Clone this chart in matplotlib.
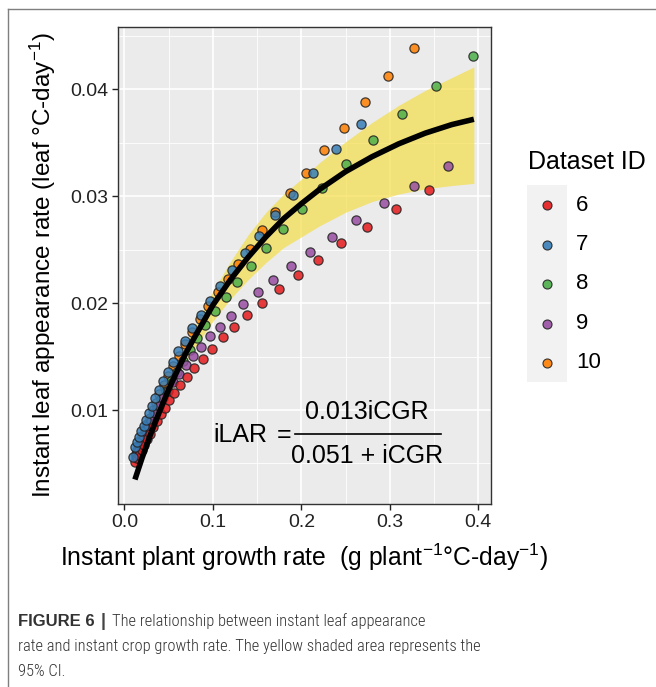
import matplotlib
matplotlib.use("Agg")
import matplotlib.pyplot as plt
from matplotlib import font_manager
from matplotlib.lines import Line2D
from matplotlib.patches import Rectangle

plt.rcParams['font.family'] = ['Liberation Sans', 'DejaVu Sans']
plt.rcParams['mathtext.fontset'] = 'custom'
plt.rcParams['mathtext.rm'] = 'Liberation Sans'
plt.rcParams['mathtext.it'] = 'Liberation Sans:italic'

# ---------------- data ----------------
dataset_ids = ["6", "7", "8", "9", "10"]
colors = ["#E41A1C", "#377EB8", "#4DAF4A", "#984EA3", "#FF7F00"]

x6 = [0.0121, 0.0144, 0.0169, 0.0197, 0.0223, 0.0253, 0.0287, 0.0324, 0.0366, 0.0411,
      0.0456, 0.0505, 0.0565, 0.0633, 0.0705, 0.0791, 0.0886, 0.0988, 0.1112, 0.1243,
      0.1386, 0.1556, 0.1748, 0.1959, 0.2192, 0.2452, 0.2742, 0.3070, 0.3447]
y6 = [0.0051, 0.0055, 0.0058, 0.0063, 0.0067, 0.0073, 0.0078, 0.0084, 0.0090, 0.0096,
      0.0102, 0.0109, 0.0116, 0.0123, 0.0131, 0.0139, 0.0148, 0.0157, 0.0168, 0.0178,
      0.0189, 0.0200, 0.0213, 0.0226, 0.0240, 0.0256, 0.0271, 0.0288, 0.0306]

x7 = [0.0102, 0.0121, 0.0144, 0.0169, 0.0192, 0.0219, 0.0245, 0.0275, 0.0309, 0.0347,
      0.0388, 0.0437, 0.0490, 0.0547, 0.0610, 0.0686, 0.0768, 0.0867, 0.0968, 0.1085,
      0.1217, 0.1360, 0.1525, 0.1703, 0.1906, 0.2132, 0.2388, 0.2671]
y7 = [0.0056, 0.0065, 0.0070, 0.0075, 0.0080, 0.0085, 0.0091, 0.0097, 0.0104, 0.0111,
      0.0119, 0.0127, 0.0136, 0.0145, 0.0155, 0.0165, 0.0177, 0.0189, 0.0202, 0.0216,
      0.0231, 0.0247, 0.0263, 0.0282, 0.0301, 0.0322, 0.0344, 0.0368]

x8 = [0.0134, 0.0154, 0.0176, 0.0200, 0.0228, 0.0258, 0.0292, 0.0330, 0.0372, 0.0420,
      0.0472, 0.0530, 0.0595, 0.0665, 0.0742, 0.0818, 0.0912, 0.1025, 0.1145, 0.1273,
      0.1432, 0.1597, 0.1793, 0.2004, 0.2238, 0.2505, 0.2807, 0.3138, 0.3518, 0.3937]
y8 = [0.0058, 0.0062, 0.0066, 0.0071, 0.0076, 0.0082, 0.0088, 0.0095, 0.0102, 0.0110,
      0.0118, 0.0127, 0.0136, 0.0146, 0.0156, 0.0167, 0.0180, 0.0193, 0.0206, 0.0220,
      0.0235, 0.0252, 0.0269, 0.0288, 0.0308, 0.0330, 0.0353, 0.0377, 0.0403, 0.0431]

x9 = [0.0130, 0.0148, 0.0168, 0.0190, 0.0215, 0.0242, 0.0273, 0.0307, 0.0345, 0.0388,
      0.0436, 0.0490, 0.0550, 0.0618, 0.0694, 0.0780, 0.0867, 0.0968, 0.1078, 0.1211,
      0.1345, 0.1507, 0.1684, 0.1880, 0.2102, 0.2347, 0.2622, 0.2931, 0.3270, 0.3658]
y9 = [0.0055, 0.0059, 0.0063, 0.0068, 0.0073, 0.0078, 0.0084, 0.0090, 0.0097, 0.0104,
      0.0111, 0.0118, 0.0126, 0.0134, 0.0142, 0.0151, 0.0159, 0.0169, 0.0178, 0.0188,
      0.0199, 0.0210, 0.0222, 0.0235, 0.0248, 0.0262, 0.0278, 0.0294, 0.0310, 0.0328]

x10 = [0.0128, 0.0145, 0.0163, 0.0183, 0.0205, 0.0229, 0.0256, 0.0286, 0.0319, 0.0356,
       0.0397, 0.0443, 0.0494, 0.0551, 0.0615, 0.0686, 0.0765, 0.0852, 0.0949, 0.1055,
       0.1172, 0.1288, 0.1417, 0.1552, 0.1703, 0.1872, 0.2053, 0.2257, 0.2479, 0.2720,
       0.2983, 0.3274]
y10 = [0.0059, 0.0063, 0.0067, 0.0071, 0.0076, 0.0081, 0.0087, 0.0093, 0.0100, 0.0107,
       0.0115, 0.0123, 0.0132, 0.0141, 0.0151, 0.0162, 0.0173, 0.0185, 0.0197, 0.0210,
       0.0223, 0.0237, 0.0251, 0.0268, 0.0285, 0.0303, 0.0322, 0.0343, 0.0364, 0.0388,
       0.0412, 0.0439]

# fitted curve and 95% CI band
fit_x = [0.012, 0.02, 0.03, 0.04, 0.05, 0.06, 0.07, 0.08, 0.10, 0.12, 0.14, 0.16,
         0.18, 0.20, 0.22, 0.25, 0.28, 0.31, 0.34, 0.37, 0.395]
fit_y = [0.0035, 0.0055, 0.0078, 0.0099, 0.0119, 0.0137, 0.0154, 0.0169, 0.0198,
         0.0222, 0.0243, 0.0262, 0.0279, 0.0293, 0.0306, 0.0323, 0.0337, 0.0349,
         0.0359, 0.0367, 0.0372]
ci_hi = [0.0036, 0.0057, 0.0080, 0.0102, 0.0124, 0.0143, 0.0162, 0.0179, 0.0211,
         0.0239, 0.0264, 0.0285, 0.0302, 0.0316, 0.0331, 0.0351, 0.0369, 0.0385,
         0.0399, 0.0411, 0.0421]
ci_lo = [0.0034, 0.0053, 0.0076, 0.0096, 0.0114, 0.0131, 0.0146, 0.0159, 0.0183,
         0.0204, 0.0222, 0.0238, 0.0252, 0.0262, 0.0272, 0.0285, 0.0295, 0.0302,
         0.0307, 0.0310, 0.0312]

x_ticks = [0.0, 0.1, 0.2, 0.3, 0.4]
x_tick_labels = ["0.0", "0.1", "0.2", "0.3", "0.4"]
y_ticks = [0.01, 0.02, 0.03, 0.04]
y_tick_labels = ["0.01", "0.02", "0.03", "0.04"]

# ---------------- figure ----------------
W, H = 656, 687
fig = plt.figure(figsize=(W / 100, H / 100), dpi=100)

def fx(px):
    return px / W

def fy(py):
    return 1 - py / H

L, R, T, B = 118.3, 490.7, 27.0, 504.0
ax = fig.add_axes([fx(L), fy(B), (R - L) / W, (B - T) / H])
ax.set_facecolor("#EBEBEB")
ax.set_xlim(-0.0068, 0.414)
ax.set_ylim(0.00121, 0.04583)

# grid
for v in [0.05, 0.15, 0.25, 0.35]:
    ax.axvline(v, color="white", lw=0.6, zorder=0.5)
for v in [0.005, 0.015, 0.025, 0.035, 0.045]:
    ax.axhline(v, color="white", lw=0.6, zorder=0.5)
for v in x_ticks:
    ax.axvline(v, color="white", lw=1.2, zorder=0.6)
for v in y_ticks:
    ax.axhline(v, color="white", lw=1.2, zorder=0.6)

ax.fill_between(fit_x, ci_lo, ci_hi, color="#F5DC3C", alpha=0.65, lw=0, zorder=1)

series = [(x10, y10, colors[4]), (x8, y8, colors[2]), (x9, y9, colors[3]),
          (x6, y6, colors[0]), (x7, y7, colors[1])]
for xs, ys, c in series:
    ax.scatter(xs, ys, s=44, color=c, alpha=0.85, edgecolors="#222222",
               linewidths=0.9, zorder=2)

ax.plot(fit_x, fit_y, color="black", lw=4.0, solid_capstyle="butt", zorder=3)

ax.set_xticks(x_ticks)
ax.set_xticklabels(x_tick_labels)
ax.set_yticks(y_ticks)
ax.set_yticklabels(y_tick_labels)
ax.tick_params(axis="both", labelsize=14, colors="#222222", length=4, width=1.0,
               direction="out", pad=3)
for sp in ax.spines.values():
    sp.set_color("#333333")
    sp.set_linewidth(1.0)

# axis titles
fig.text(fx(303.5), fy(557), r"Instant plant growth rate  (g plant$^{-1}$°C-day$^{-1}$)",
         ha="center", va="center", fontsize=17.8, color="black")
fig.text(fx(43), fy(265), r"Instant leaf appearance rate (leaf °C-day$^{-1}$)",
         ha="center", va="center", rotation=90, fontsize=17.5, color="black")

# equation
eq_fs = 18
fig.text(fx(213), fy(435), "iLAR", ha="left", va="center", fontsize=eq_fs)
fig.text(fx(284), fy(435), "=", ha="center", va="center", fontsize=eq_fs)
fig.text(fx(367), fy(412), "0.013iCGR", ha="center", va="center", fontsize=eq_fs)
fig.text(fx(367), fy(456), "0.051 + iCGR", ha="center", va="center", fontsize=eq_fs)
fig.add_artist(Line2D([fx(295), fx(441)], [fy(434), fy(434)], color="black", lw=1.2))

# legend
fig.text(fx(528), fy(162), "Dataset ID", ha="left", va="center", fontsize=18)
fig.add_artist(Rectangle((fx(527), fy(382)), (567 - 527) / W, (382 - 185) / H,
                         transform=fig.transFigure, facecolor="#F2F2F2",
                         edgecolor="none"))
key_y = [205, 245, 284, 323.5, 363]
for lab, c, ky in zip(dataset_ids, colors, key_y):
    fig.add_artist(Line2D([fx(547.3)], [fy(ky)], marker="o", markersize=6.5,
                          markerfacecolor=c, markeredgecolor="#222222",
                          markeredgewidth=0.8, alpha=0.9, linestyle="none"))
    fig.text(fx(576), fy(ky), lab, ha="left", va="center", fontsize=16)

# frame around figure panel
fig.add_artist(Line2D([fx(8), fx(656)], [fy(9), fy(9)], color="#7F7F7F", lw=1.0))
fig.add_artist(Line2D([fx(8), fx(8)], [fy(9), fy(687)], color="#7F7F7F", lw=1.0))

# caption: prefer a condensed face if one is installed
installed = {f.name for f in font_manager.fontManager.ttflist}
narrow = None
for cand in ['Roboto Condensed', 'Liberation Sans Narrow', 'Open Sans Condensed']:
    if cand in installed:
        narrow = cand
        break
if narrow is not None:
    cap_fam, cap_fs, cap_w = [narrow, 'DejaVu Sans'], 11.9, 300
else:
    cap_fam, cap_fs, cap_w = ['Liberation Sans', 'DejaVu Sans'], 10.4, 'normal'

fig.text(fx(18), fy(621), "FIGURE 6", ha="left", va="center", fontsize=12,
         fontweight="bold", color="#333333", family=['Liberation Sans', 'DejaVu Sans'])
fig.text(fx(101), fy(621), "|", ha="left", va="center", fontsize=13,
         fontweight="bold", color="#444444", family=['Liberation Sans', 'DejaVu Sans'])
fig.text(fx(112), fy(621), "The relationship between instant leaf appearance",
         ha="left", va="center", fontsize=cap_fs, fontweight=cap_w, color="#333333",
         family=cap_fam)
fig.text(fx(18), fy(647),
         "rate and instant crop growth rate. The yellow shaded area represents the",
         ha="left", va="center", fontsize=cap_fs, fontweight=cap_w, color="#333333",
         family=cap_fam)
fig.text(fx(18), fy(672), "95% CI.", ha="left", va="center", fontsize=cap_fs,
         fontweight=cap_w, color="#333333", family=cap_fam)

fig.savefig("out.png", dpi=100)
